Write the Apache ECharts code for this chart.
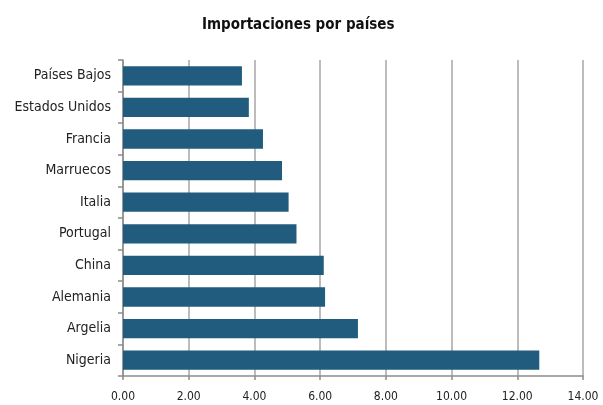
<!DOCTYPE html>
<html>
<head>
<meta charset="utf-8">
<script src="https://cdn.jsdelivr.net/npm/echarts@6/dist/echarts.min.js"></script>
<style>
  html, body { margin: 0; padding: 0; background: #fff; }
  #chart { width: 603px; height: 405px; }
</style>
</head>
<body>
<div id="chart"></div>
<script>
const paises = ['Países Bajos', 'Estados Unidos', 'Francia', 'Marruecos', 'Italia',
    'Portugal', 'China', 'Alemania', 'Argelia', 'Nigeria'];
const importaciones = [3.62, 3.83, 4.26, 4.84, 5.04, 5.28, 6.11, 6.15, 7.15, 12.67];

const font = "'Liberation Sans Narrow', 'DejaVu Sans Condensed', 'Liberation Sans', sans-serif";

const option = {
    backgroundColor: '#fff',
    animation: false,
    title: {
        text: 'Importaciones por países',
        left: 197,
        top: 13,
        textStyle: {
            fontFamily: font,
            fontWeight: 'bold',
            fontSize: 15,
            color: '#111'
        }
    },
    grid: {
        left: 123,
        right: 20,
        top: 60,
        bottom: 29
    },
    xAxis: {
        type: 'value',
        min: 0,
        max: 14,
        interval: 2,
        axisLine: { show: true, lineStyle: { color: '#8c8c8c', width: 1.5 } },
        axisTick: { show: true, length: 4, lineStyle: { color: '#8c8c8c', width: 1.5 } },
        splitLine: { show: true, lineStyle: { color: '#a6a6a6', width: 1.5 } },
        axisLabel: {
            fontFamily: font,
            fontSize: 12,
            color: '#222',
            margin: 15,
            formatter: v => v.toFixed(2)
        }
    },
    yAxis: {
        type: 'category',
        inverse: true,
        data: paises,
        axisLine: { show: true, lineStyle: { color: '#8c8c8c', width: 1.5 } },
        axisTick: { show: true, length: 5, lineStyle: { color: '#8c8c8c', width: 1.5 } },
        axisLabel: {
            fontFamily: font,
            fontSize: 14,
            color: '#222',
            margin: 12
        }
    },
    series: [{
        type: 'bar',
        data: importaciones,
        barCategoryGap: '39%',
        itemStyle: { color: '#215b7e' }
    }]
};

const chart = echarts.init(document.getElementById('chart'));
chart.setOption(option);
</script>
</body>
</html>
